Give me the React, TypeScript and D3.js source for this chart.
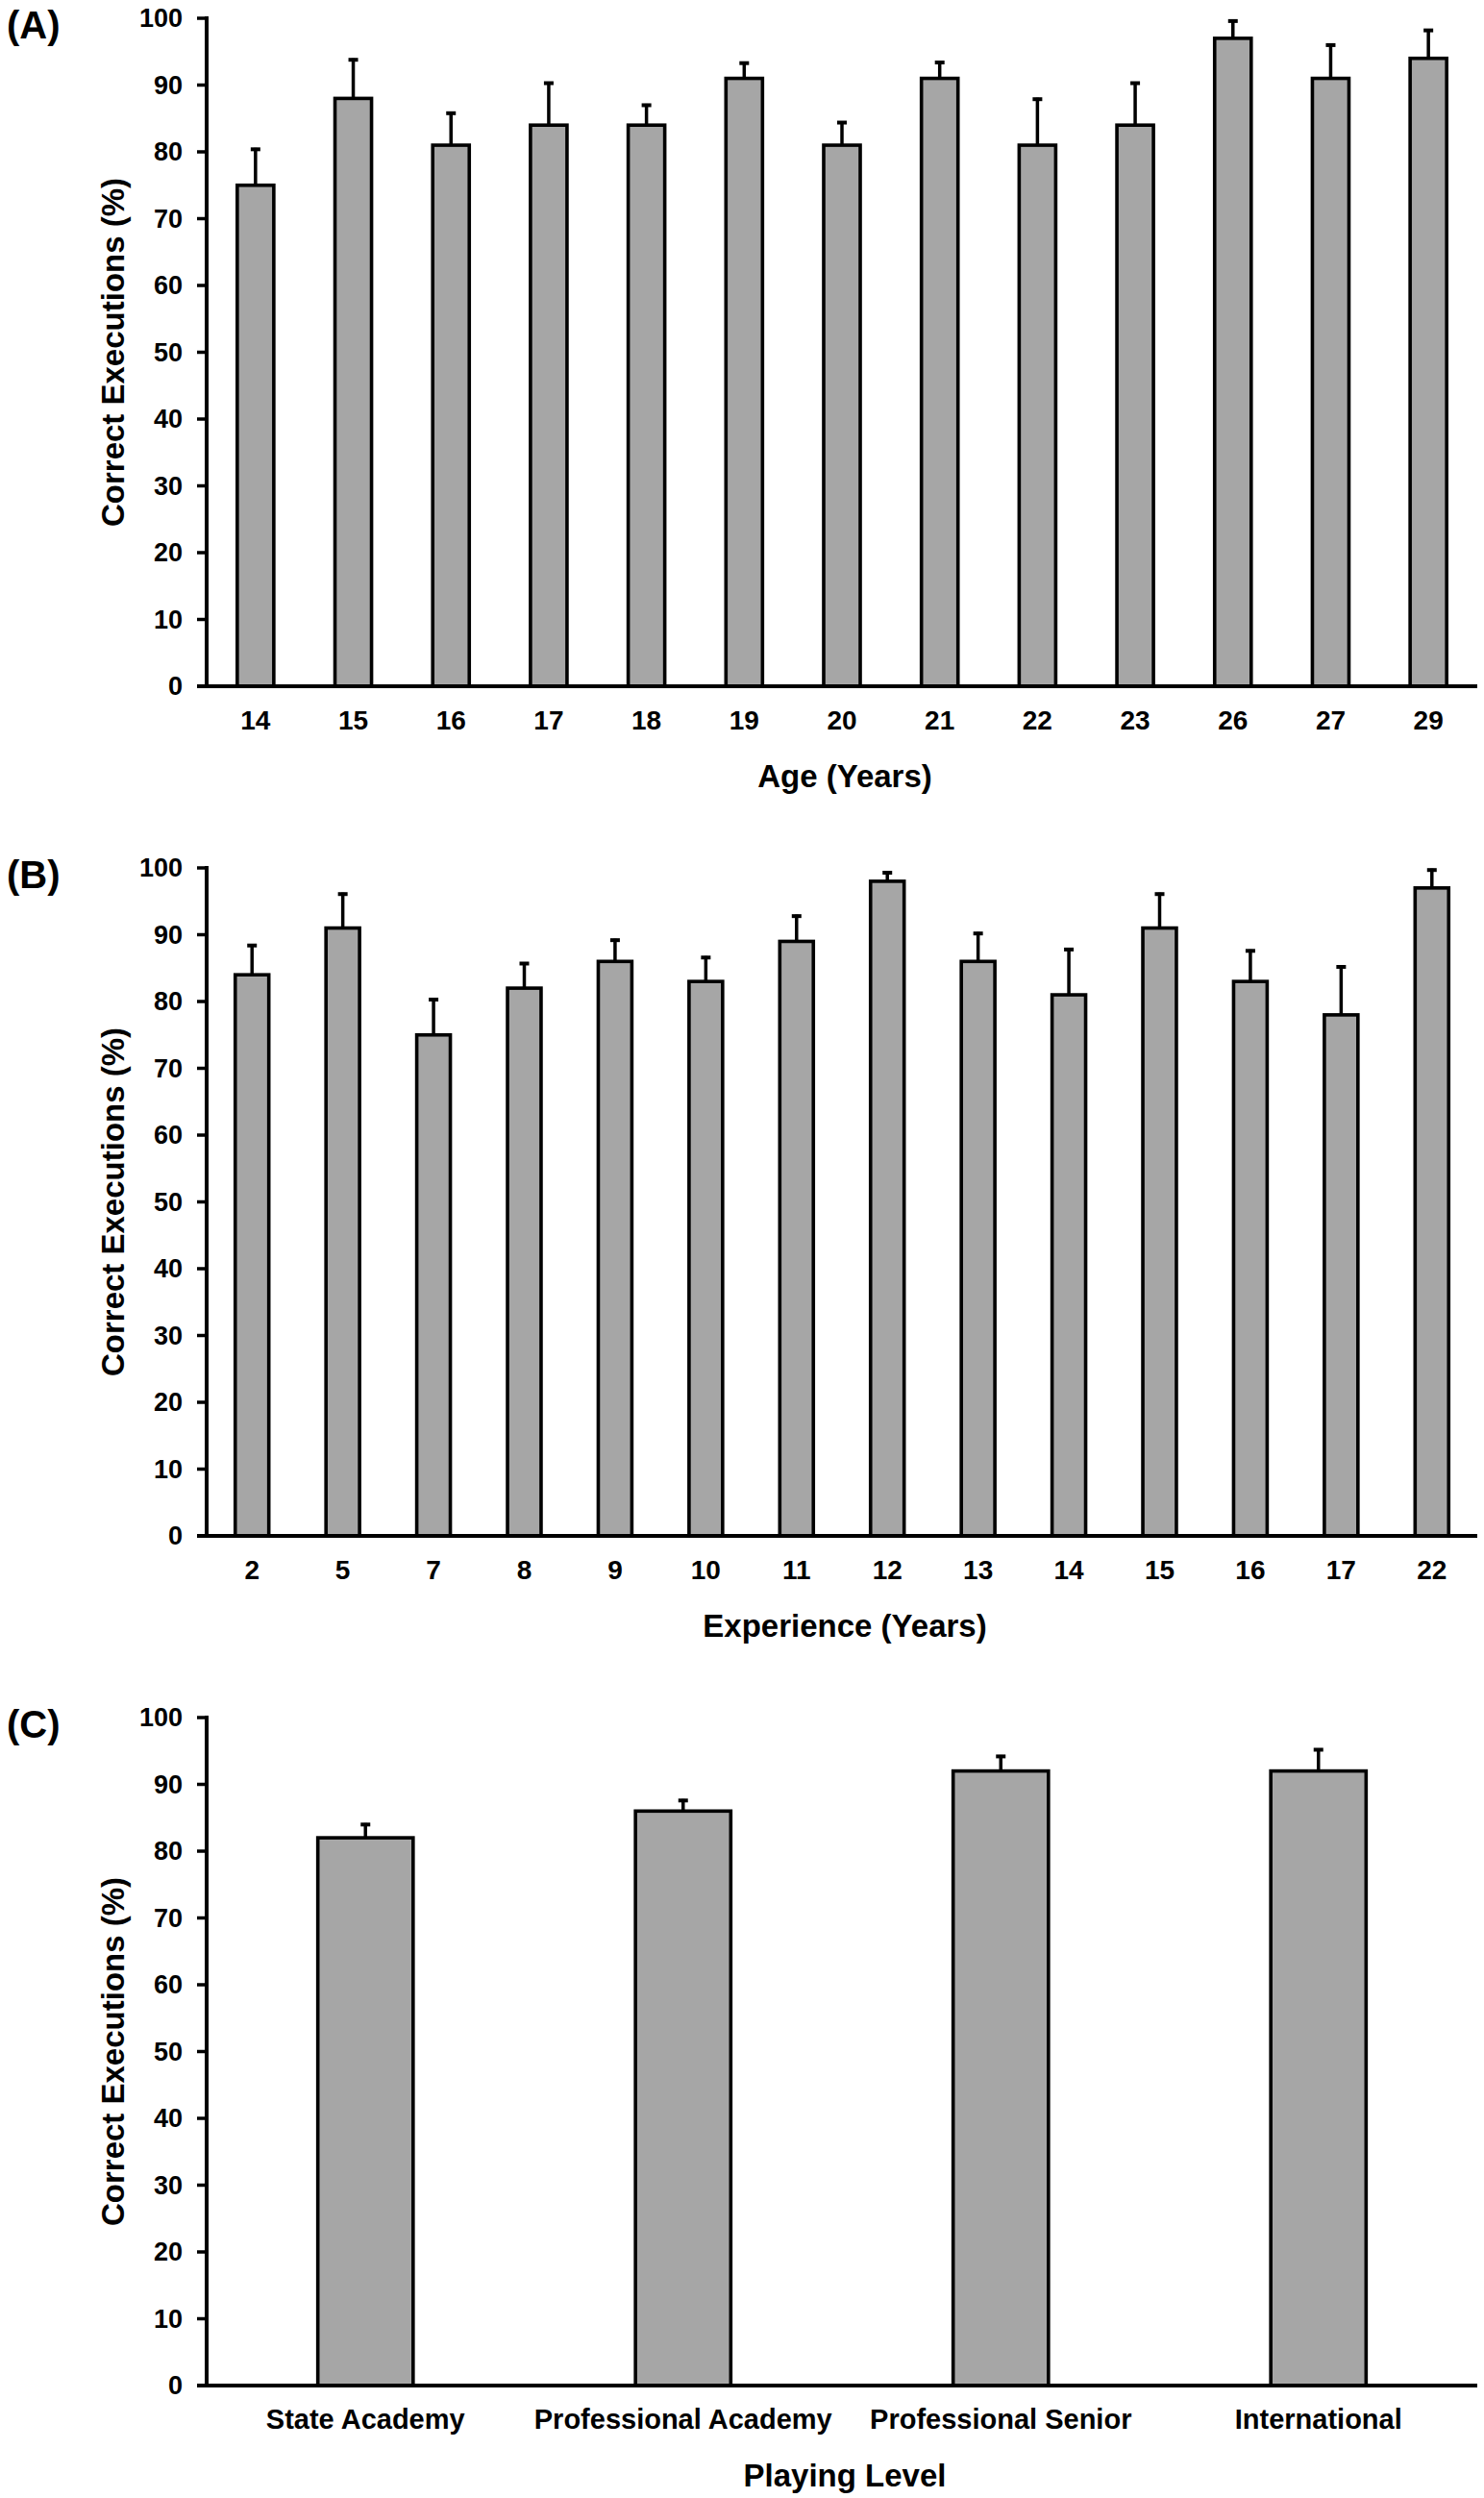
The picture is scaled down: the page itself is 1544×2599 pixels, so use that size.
import * as d3 from "d3";

// panel A – age
const ageCats = ["14", "15", "16", "17", "18", "19", "20", "21", "22", "23", "26", "27", "29"];
const ageMeans = [75, 88, 81, 84, 84, 91, 81, 91, 81, 84, 97, 91, 94];
const ageErr = [5.6, 6.0, 5.0, 6.5, 3.2, 2.5, 3.6, 2.6, 7.1, 6.5, 2.8, 5.2, 4.4];

// panel B – experience
const expCats = ["2", "5", "7", "8", "9", "10", "11", "12", "13", "14", "15", "16", "17", "22"];
const expMeans = [84, 91, 75, 82, 86, 83, 89, 98, 86, 81, 91, 83, 78, 97];
const expErr = [4.6, 5.3, 5.5, 3.9, 3.4, 3.8, 4.0, 1.5, 4.4, 7.0, 5.3, 4.8, 7.4, 2.9];

// panel C – playing level
const levelCats = ["State Academy", "Professional Academy", "Professional Senior", "International"];
const levelMeans = [82, 86, 92, 92];
const levelErr = [2.2, 1.8, 2.4, 3.4];

const yTicks = [0, 10, 20, 30, 40, 50, 60, 70, 80, 90, 100];

const W = 1544;
const H = 2599;
const FONT = "'Liberation Sans', Arial, Helvetica, sans-serif";

interface PanelProps {
  top: number;
  letter: string;
  cats: string[];
  means: number[];
  errs: number[];
  xTitle: string;
  pad: number;
  tickSize: number;
}

function Panel({ top, letter, cats, means, errs, xTitle, pad, tickSize }: PanelProps) {
  const x0 = 215;
  const x1 = 1537;
  const plotH = 695;

  const x = d3.scaleBand<string>()
    .domain(cats)
    .range([x0, x1])
    .paddingInner(pad)
    .paddingOuter(pad / 2);

  const y = d3.scaleLinear().domain([0, 100]).range([top + plotH, top]);
  const bw = x.bandwidth();

  return (
    <g>
      <text x={7} y={top + 21} fontSize={40} fontWeight="bold" fontFamily={FONT}>{letter}</text>

      {cats.map((c, i) => {
        const cx = x(c)! + bw / 2;
        const yTop = y(means[i] + errs[i]);
        return (
          <g key={c}>
            <line x1={cx} x2={cx} y1={y(means[i])} y2={yTop} stroke="#000" strokeWidth={3.5} />
            <line x1={cx - 5} x2={cx + 5} y1={yTop + 1.5} y2={yTop + 1.5} stroke="#000" strokeWidth={4} />
            <rect x={x(c)} y={y(means[i])} width={bw} height={y(0) - y(means[i])}
              fill="#a6a6a6" stroke="#000" strokeWidth={3.6} />
          </g>
        );
      })}

      {/* y axis */}
      <line x1={x0} x2={x0} y1={y(100) - 2} y2={y(0)} stroke="#000" strokeWidth={4} />
      {yTicks.map((t) => (
        <g key={t}>
          <line x1={x0 - 10} x2={x0} y1={y(t)} y2={y(t)} stroke="#000" strokeWidth={3.5} />
          <text x={190} y={y(t)} dy="0.35em" textAnchor="end" fontSize={27} fontWeight="bold" fontFamily={FONT}>{t}</text>
        </g>
      ))}

      {/* x axis */}
      <line x1={x0 - 10} x2={x1} y1={y(0)} y2={y(0)} stroke="#000" strokeWidth={4.2} />
      {cats.map((c) => (
        <text key={c} x={x(c)! + bw / 2} y={top + 730} dy="0.35em" textAnchor="middle"
          fontSize={tickSize} fontWeight="bold" fontFamily={FONT}>{c}</text>
      ))}

      <text x={(x0 + x1) / 2 + 3} y={top + 788} dy="0.35em" textAnchor="middle" fontSize={33} fontWeight="bold" fontFamily={FONT}>{xTitle}</text>
      <text transform={`translate(117,${top + plotH / 2}) rotate(-90)`} dy="0.35em" textAnchor="middle"
        fontSize={33} fontWeight="bold" fontFamily={FONT}>Correct Executions (%)</text>
    </g>
  );
}

export default function App() {
  return (
    <svg width={W} height={H} viewBox={`0 0 ${W} ${H}`}
      style={{ position: "absolute", left: 0, top: 0, background: "#fff" }}>
      <rect width={W} height={H} fill="#fff" />
      <Panel top={19} letter="(A)" cats={ageCats} means={ageMeans} errs={ageErr} xTitle="Age (Years)" pad={0.626} tickSize={28} />
      <Panel top={903} letter="(B)" cats={expCats} means={expMeans} errs={expErr} xTitle="Experience (Years)" pad={0.63} tickSize={28} />
      <Panel top={1787} letter="(C)" cats={levelCats} means={levelMeans} errs={levelErr} xTitle="Playing Level" pad={0.7} tickSize={29} />
    </svg>
  );
}
